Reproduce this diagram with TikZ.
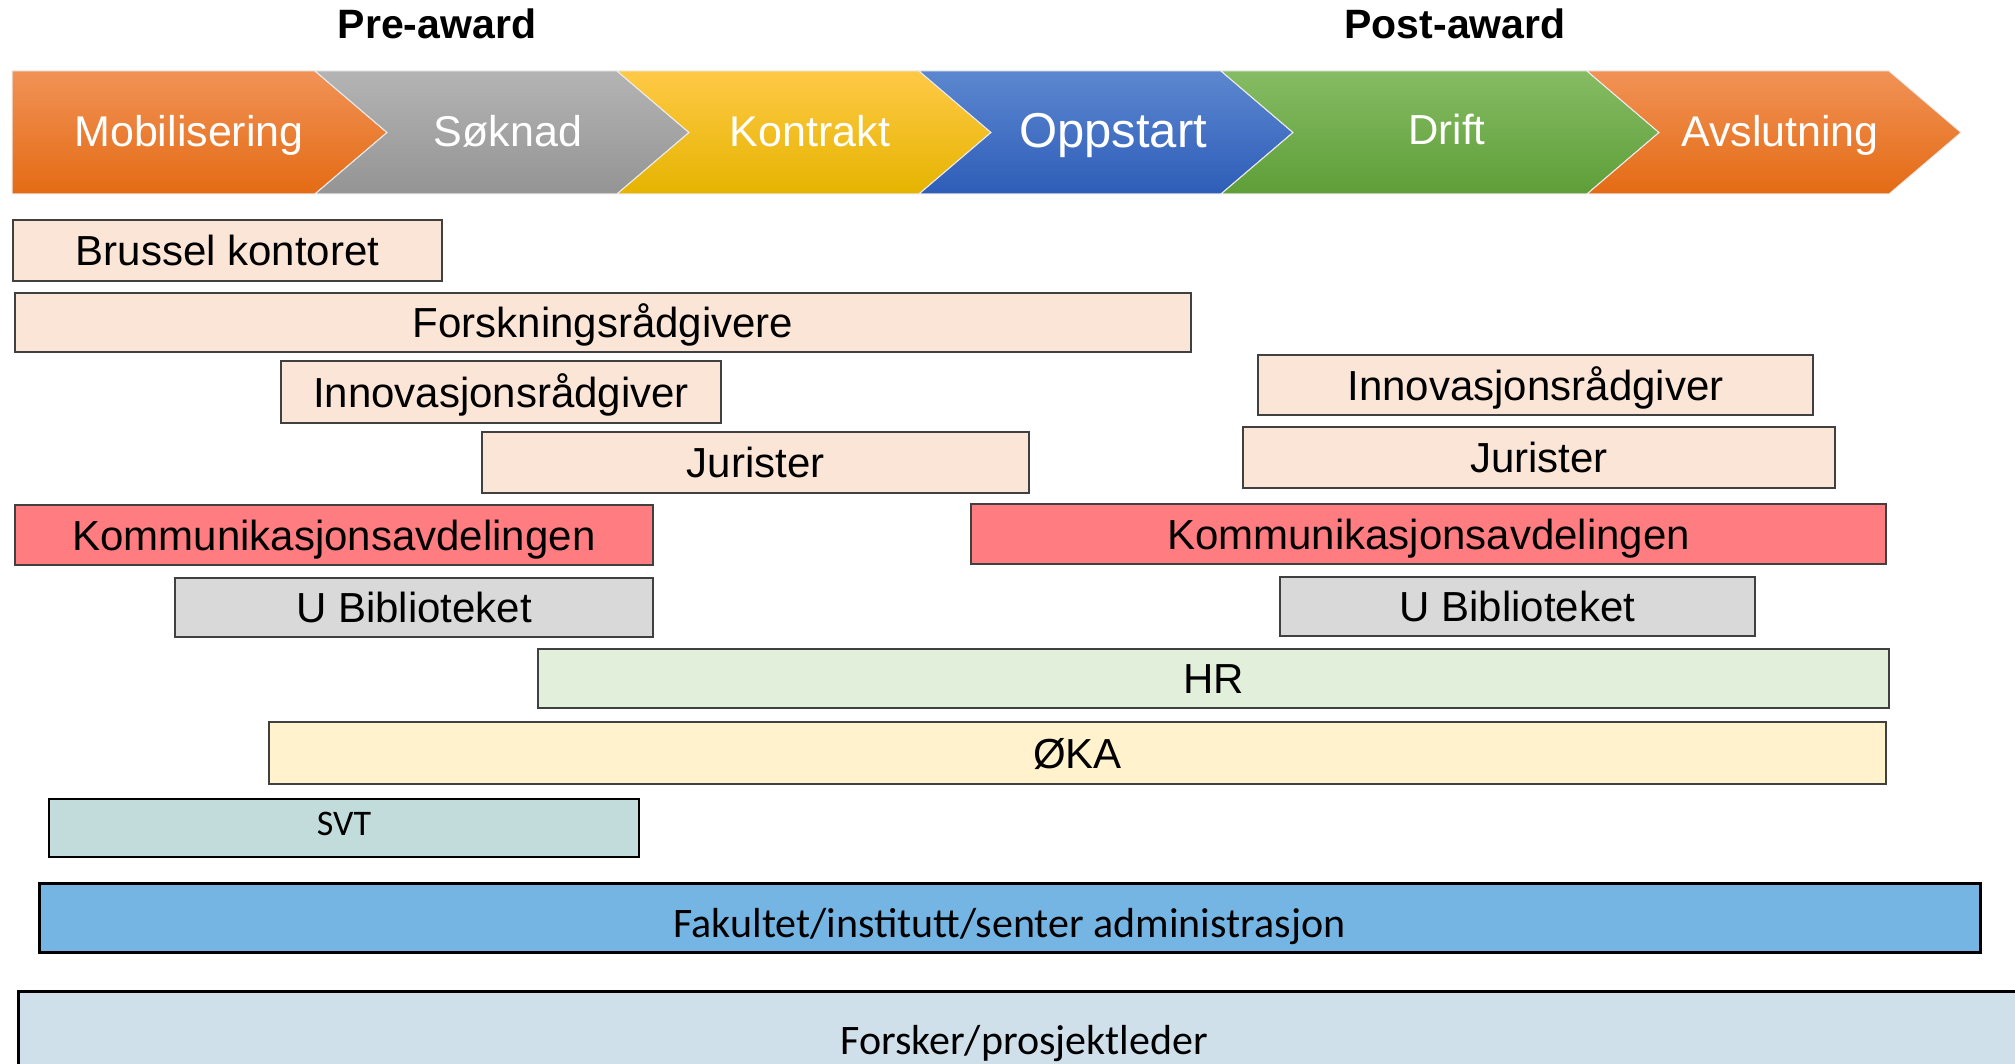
\documentclass[tikz,border=0pt]{standalone}
\usepackage{fontspec}
\setmainfont{Liberation Sans}
\newfontfamily\calibrifont{Carlito}
\definecolor{peach}{HTML}{FBE5D6}
\definecolor{kommred}{HTML}{FF7C80}
\definecolor{libgray}{HTML}{D9D9D9}
\definecolor{hrgreen}{HTML}{E2EFDA}
\definecolor{okayellow}{HTML}{FFF2CC}
\definecolor{svtteal}{HTML}{C1DCDA}
\definecolor{fakblue}{HTML}{75B5E3}
\definecolor{forskblue}{HTML}{D0E0EA}
\definecolor{barline}{HTML}{404040}
\begin{document}
\begin{tikzpicture}[x=1pt,y=-1pt,
  bar/.style={draw=barline, line width=2pt, inner sep=0pt, text=black,
    font=\fontsize{42}{50}\selectfont, text height=30pt, text depth=0pt},
  calbar/.style={draw=black, line width=3pt, inner sep=0pt, text=black,
    font=\calibrifont\fontsize{42}{50}\selectfont},
  stage/.style={text=white, inner sep=0pt, font=\fontsize{43}{50}\selectfont,
    text height=30pt, text depth=0pt},
  phase/.style={text=black, inner sep=0pt, font=\bfseries\fontsize{41}{48}\selectfont},
  chev/.style={draw=white!85!gray, line width=1pt}
]
\clip (0,0) rectangle (2015,1064);
\fill[white] (0,0) rectangle (2015,1064);

% phase titles
\node[phase] (pre) at (437,24) {Pre-award};
\node[phase] (post) at (1455,24) {Post-award};

% chevrons
\path[chev, top color={rgb,255:red,241;green,146;blue,86}, bottom color={rgb,255:red,228;green,107;blue,20}]
  (12,71) -- (315,71) -- (387,132.5) -- (315,194) -- (12,194) -- cycle;
\path[chev, top color={rgb,255:red,180;green,180;blue,180}, bottom color={rgb,255:red,148;green,148;blue,148}]
  (315,71) -- (617,71) -- (689,132.5) -- (617,194) -- (315,194) -- (387,132.5) -- cycle;
\path[chev, top color={rgb,255:red,255;green,201;blue,70}, bottom color={rgb,255:red,229;green,180;blue,0}]
  (617,71) -- (919,71) -- (991,132.5) -- (919,194) -- (617,194) -- (689,132.5) -- cycle;
\path[chev, top color={rgb,255:red,92;green,135;blue,208}, bottom color={rgb,255:red,46;green,93;blue,184}]
  (919,71) -- (1221,71) -- (1293,132.5) -- (1221,194) -- (919,194) -- (991,132.5) -- cycle;
\path[chev, top color={rgb,255:red,134;green,188;blue,100}, bottom color={rgb,255:red,94;green,158;blue,56}]
  (1221,71) -- (1587,71) -- (1659,132.5) -- (1587,194) -- (1221,194) -- (1293,132.5) -- cycle;
\path[chev, top color={rgb,255:red,241;green,146;blue,86}, bottom color={rgb,255:red,228;green,107;blue,20}]
  (1587,71) -- (1889,71) -- (1961,132.5) -- (1889,194) -- (1587,194) -- (1659,132.5) -- cycle;

\node[stage] (mob) at (189,132) {Mobilisering};
\node[stage] (sok) at (508,132) {Søknad};
\node[stage] (kon) at (810,132) {Kontrakt};
\node[stage, font=\fontsize{49}{56}\selectfont, text height=35pt] (opp) at (1113,130) {Oppstart};
\node[stage, font=\fontsize{42}{50}\selectfont] (dri) at (1447,130) {Drift};
\node[stage] (avs) at (1780,132) {Avslutning};

% left-side bars
\node[bar, fill=peach, minimum width=429pt, minimum height=61pt] (brussel) at (227.5,250.5) {Brussel kontoret};
\node[bar, fill=peach, minimum width=1176pt, minimum height=59pt] (forsk) at (603,322.5) {Forskningsrådgivere};
\node[bar, fill=peach, minimum width=440pt, minimum height=62pt] (innovL) at (501,392) {Innovasjonsrådgiver};
\node[bar, fill=peach, minimum width=547pt, minimum height=61pt] (jurL) at (755.5,462.5) {Jurister};
\node[bar, fill=kommred, minimum width=638pt, minimum height=60pt] (kommL) at (334,535) {Kommunikasjonsavdelingen};
\node[bar, fill=libgray, minimum width=478pt, minimum height=59pt] (ubibL) at (414,607.5) {U Biblioteket};

% right-side bars
\node[bar, fill=peach, minimum width=555pt, minimum height=60pt] (innovR) at (1535.5,385) {Innovasjonsrådgiver};
\node[bar, fill=peach, minimum width=592pt, minimum height=61pt] (jurR) at (1539,457.5) {Jurister};
\node[bar, fill=kommred, minimum width=915pt, minimum height=60pt] (kommR) at (1428.5,534) {Kommunikasjonsavdelingen};
\node[bar, fill=libgray, minimum width=475pt, minimum height=59pt] (ubibR) at (1517.5,606.5) {U Biblioteket};

% wide bars
\node[bar, fill=hrgreen, minimum width=1351pt, minimum height=59pt] (hr) at (1213.5,678.5) {HR};
\node[bar, fill=okayellow, minimum width=1617pt, minimum height=62pt] (oka) at (1077.5,753) {ØKA};
\node[calbar, line width=2.5pt, fill=svtteal, minimum width=590pt, minimum height=58pt,
  font=\calibrifont\fontsize{36}{42}\selectfont, text height=24pt, text depth=10pt] (svt) at (344,828) {SVT};
\node[calbar, fill=fakblue, minimum width=1941pt, minimum height=69pt,
  text height=39pt, text depth=0pt] (fak) at (1009.5,917.5) {Fakultet/institutt/senter administrasjon};
\node[calbar, fill=forskblue, minimum width=2012pt, minimum height=126pt,
  text height=27pt, text depth=27pt] (forsker) at (1024,1054) {Forsker/prosjektleder};
\end{tikzpicture}
\end{document}
